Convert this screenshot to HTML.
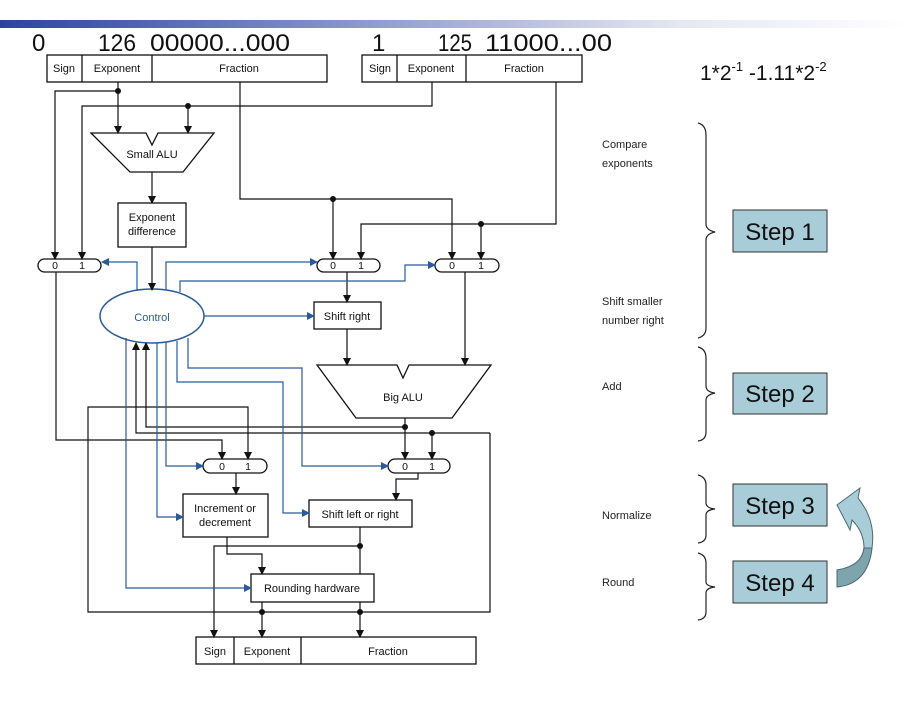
<!DOCTYPE html>
<html><head><meta charset="utf-8"><style>
html,body{margin:0;padding:0;background:#fff;width:910px;height:703px;overflow:hidden}
svg{display:block}
</style></head><body>
<svg width="910" height="703" viewBox="0 0 910 703" xmlns="http://www.w3.org/2000/svg" font-family="Liberation Sans, Arial, sans-serif">
<defs>
<linearGradient id="g" x1="0" x2="1"><stop offset="0" stop-color="#2b44a0"/><stop offset="0.35" stop-color="#7f8ec8"/><stop offset="0.75" stop-color="#e6e8f2"/><stop offset="1" stop-color="#fff"/></linearGradient>
<marker id="ak" markerWidth="8" markerHeight="8" refX="7" refY="4" orient="auto" markerUnits="userSpaceOnUse"><path d="M0,0 L8,4 L0,8 z" fill="#111"/></marker>
<marker id="ab" markerWidth="8" markerHeight="8" refX="7" refY="4" orient="auto" markerUnits="userSpaceOnUse"><path d="M0,0 L8,4 L0,8 z" fill="#2a5a9a"/></marker>
</defs>
<rect x="0" y="20" width="910" height="8" fill="url(#g)"/>
<g font-size="24" fill="#111">
<text x="32" y="51">0</text><text x="98" y="51" textLength="38" lengthAdjust="spacingAndGlyphs">126</text><text x="150" y="51" textLength="140" lengthAdjust="spacingAndGlyphs">00000...000</text>
<text x="372" y="51">1</text><text x="438" y="51" textLength="34" lengthAdjust="spacingAndGlyphs">125</text><text x="485" y="51" textLength="127" lengthAdjust="spacingAndGlyphs">11000...00</text>
</g>
<text x="700" y="80" font-size="21" fill="#111">1*2<tspan font-size="13" dy="-9">-1</tspan><tspan dy="9"> -1.11*2</tspan><tspan font-size="13" dy="-9">-2</tspan></text>

<g stroke="#111" stroke-width="1.3" fill="#fff">
<rect x="47" y="55" width="280" height="27"/><line x1="82" y1="55" x2="82" y2="82"/><line x1="152" y1="55" x2="152" y2="82"/>
<rect x="362" y="55" width="220" height="27"/><line x1="397" y1="55" x2="397" y2="82"/><line x1="466" y1="55" x2="466" y2="82"/>
<rect x="196" y="637" width="280" height="27"/><line x1="234" y1="637" x2="234" y2="664"/><line x1="301" y1="637" x2="301" y2="664"/>
<path d="M91,133 L146,133 L152,145 L158,133 L214,133 L183,172 L130,172 Z"/>
<rect x="118" y="203" width="68" height="44"/>
<rect x="314" y="302" width="67" height="27"/>
<path d="M317,365 L397,365 L403,378 L409,365 L491,365 L452,418 L356,418 Z"/>
<rect x="183" y="494" width="85" height="43"/>
<rect x="309" y="500" width="103" height="27"/>
<rect x="251" y="574" width="123" height="28"/>
<rect x="38" y="259" width="63" height="13" rx="6.5"/>
<rect x="317" y="259" width="63" height="13" rx="6.5"/>
<rect x="435" y="259" width="64" height="13" rx="6.5"/>
<rect x="203" y="459" width="64" height="14" rx="7"/>
<rect x="388" y="459" width="62" height="14" rx="7"/>
</g>
<ellipse cx="152" cy="316" rx="52" ry="27" fill="#fff" stroke="#2a5a9a" stroke-width="1.5"/>

<g font-size="11" fill="#111" text-anchor="middle">
<text x="64" y="72">Sign</text><text x="117" y="72">Exponent</text><text x="239" y="72">Fraction</text>
<text x="380" y="72">Sign</text><text x="431" y="72">Exponent</text><text x="524" y="72">Fraction</text>
<text x="215" y="655">Sign</text><text x="267" y="655">Exponent</text><text x="388" y="655">Fraction</text>
<text x="152" y="158">Small ALU</text>
<text x="152" y="221">Exponent</text><text x="152" y="235">difference</text>
<text x="347" y="320">Shift right</text>
<text x="403" y="401">Big ALU</text>
<text x="225" y="512">Increment or</text><text x="225" y="526">decrement</text>
<text x="360" y="518">Shift left or right</text>
<text x="312" y="592">Rounding hardware</text>
<text x="152" y="321" fill="#2a5a9a">Control</text>
<g font-size="10.5"><text x="55" y="269">0</text><text x="82" y="269">1</text>
<text x="333" y="269">0</text><text x="361" y="269">1</text>
<text x="452" y="269">0</text><text x="481" y="269">1</text>
<text x="222" y="470">0</text><text x="248" y="470">1</text>
<text x="405" y="470">0</text><text x="432" y="470">1</text></g>
</g>

<g stroke="#111" stroke-width="1.2" fill="none">
<path d="M118,82 V133" marker-end="url(#ak)"/>
<path d="M118,91 H55 V259" marker-end="url(#ak)"/>
<path d="M432,82 V106 H82 V259" marker-end="url(#ak)"/>
<path d="M188,106 V133" marker-end="url(#ak)"/>
<path d="M152,172 V203" marker-end="url(#ak)"/>
<path d="M152,247 V290" marker-end="url(#ak)"/>
<path d="M240,82 V199 H452 V259" marker-end="url(#ak)"/>
<path d="M333,199 V259" marker-end="url(#ak)"/>
<path d="M556,82 V224 H361 V259" marker-end="url(#ak)"/>
<path d="M481,224 V259" marker-end="url(#ak)"/>
<path d="M347,272 V302" marker-end="url(#ak)"/>
<path d="M347,329 V365" marker-end="url(#ak)"/>
<path d="M465,272 V365" marker-end="url(#ak)"/>
<path d="M405,418 V459" marker-end="url(#ak)"/>
<path d="M405,427 H146 V343" marker-end="url(#ak)"/>
<path d="M490,433 H136 V343" marker-end="url(#ak)"/>
<path d="M432,433 V459" marker-end="url(#ak)"/>
<path d="M490,433 V612 H88 V407 H248 V459" marker-end="url(#ak)"/>
<path d="M56,272 V440 H222 V459" marker-end="url(#ak)"/>
<path d="M236,473 V494" marker-end="url(#ak)"/>
<path d="M418,473 V479 H396 V500" marker-end="url(#ak)"/>
<path d="M360,527 V574"/>
<path d="M360,546 H214 V637" marker-end="url(#ak)"/>
<path d="M227,537 V554 H262 V574" marker-end="url(#ak)"/>
<path d="M262,602 V637" marker-end="url(#ak)"/>
<path d="M360,602 V637" marker-end="url(#ak)"/>
</g>
<g fill="#111">
<circle cx="118" cy="91" r="3"/><circle cx="188" cy="106" r="3"/><circle cx="333" cy="199" r="3"/><circle cx="481" cy="224" r="3"/>
<circle cx="405" cy="427" r="3"/><circle cx="432" cy="433" r="3"/><circle cx="360" cy="546" r="3"/><circle cx="262" cy="612" r="3"/><circle cx="360" cy="612" r="3"/>
</g>
<g stroke="#2a5a9a" stroke-width="1.2" fill="none">
<path d="M137,290 V262 H102" marker-end="url(#ab)"/>
<path d="M166,290 V262 H317" marker-end="url(#ab)"/>
<path d="M180,292 V281 H405 V265 H435" marker-end="url(#ab)"/>
<path d="M204,316 H314" marker-end="url(#ab)"/>
<path d="M166,342 V466 H203" marker-end="url(#ab)"/>
<path d="M188,338 V368 H302 V466 H388" marker-end="url(#ab)"/>
<path d="M177,341 V382 H283 V513 H309" marker-end="url(#ab)"/>
<path d="M157,343 V517 H183" marker-end="url(#ab)"/>
<path d="M126,338 V588 H251" marker-end="url(#ab)"/>
</g>

<g font-size="11" fill="#222">
<text x="602" y="148">Compare</text><text x="602" y="167">exponents</text>
<text x="602" y="305">Shift smaller</text><text x="602" y="324">number right</text>
<text x="602" y="390">Add</text><text x="602" y="519">Normalize</text><text x="602" y="586">Round</text>
</g>
<g stroke="#222" stroke-width="1.2" fill="none">
<path d="M698,123 Q706,125 706,135 V224 Q706,230 715,232 Q706,234 706,240 V328 Q706,336 698,338"/>
<path d="M698,347 Q706,349 706,358 V386 Q706,392 715,393 Q706,395 706,400 V432 Q706,440 698,441"/>
<path d="M698,475 Q706,477 706,485 V503 Q706,508 715,509 Q706,510 706,515 V535 Q706,542 698,543"/>
<path d="M698,553 Q706,555 706,563 V582 Q706,586 715,587 Q706,588 706,593 V612 Q706,619 698,620"/>
</g>
<g fill="#a9cdd8" stroke="#333" stroke-width="1">
<rect x="733" y="210" width="94" height="42"/><rect x="733" y="373" width="94" height="41"/>
<rect x="733" y="484" width="94" height="42"/><rect x="733" y="561" width="94" height="42"/>
</g>
<g font-size="24" fill="#111" text-anchor="middle">
<text x="780" y="240">Step 1</text><text x="780" y="402">Step 2</text><text x="780" y="514">Step 3</text><text x="780" y="591">Step 4</text>
</g>
<path d="M837,505 L860,488 L858,498 Q876,520 872,548 Q868,584 837,587 L837,570 Q862,566 864,548 Q864,532 852,520 L850,530 Z" fill="#a9cdd8" stroke="#4a6a74" stroke-width="1"/>
<path d="M872,548 Q868,584 837,587 L837,570 Q862,566 864,548 Z" fill="#7ea4ae" stroke="#4a6a74" stroke-width="1"/>
</svg>
</body></html>
